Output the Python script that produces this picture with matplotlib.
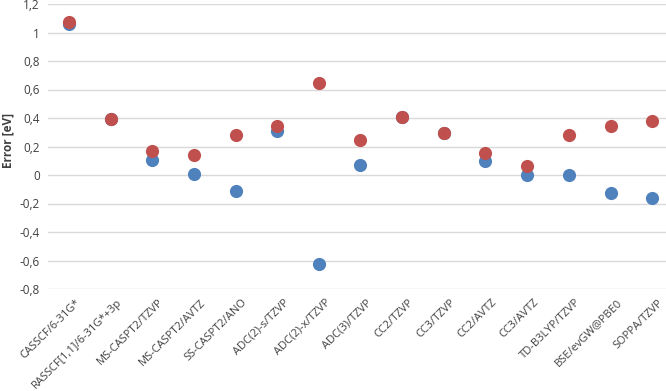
import matplotlib.pyplot as plt
from matplotlib.transforms import ScaledTranslation

methods = ['CASSCF/6-31G*', 'RASSCF[1,1]/6-31G*+3p', 'MS-CASPT2/TZVP', 'MS-CASPT2/AVTZ',
           'SS-CASPT2/ANO', 'ADC(2)-s/TZVP', 'ADC(2)-x/TZVP', 'ADC(3)/TZVP', 'CC2/TZVP',
           'CC3/TZVP', 'CC2/AVTZ', 'CC3/AVTZ', 'TD-B3LYP/TZVP', 'BSE/evGW@PBE0', 'SOPPA/TZVP']
blue_err = [1.06, 0.39, 0.104, 0.006, -0.114, 0.312, -0.628, 0.069, 0.408,
            0.296, 0.10, 0.001, 0.0, -0.128, -0.163]
red_err = [1.075, 0.39, 0.165, 0.142, 0.284, 0.345, 0.644, 0.249, 0.408,
           0.296, 0.153, 0.06, 0.284, 0.347, 0.38]
yticks = [-0.8, -0.6, -0.4, -0.2, 0, 0.2, 0.4, 0.6, 0.8, 1, 1.2]

plt.rcParams['font.family'] = ['Open Sans', 'DejaVu Sans']

fig = plt.figure(figsize=(6.66, 3.91), dpi=100)
ax = fig.add_axes([48 / 666, 102 / 391, 625 / 666, 285 / 391])

x = list(range(len(methods)))
ax.scatter(x, blue_err, s=90, color='#4F81BD', zorder=3, linewidths=0)
ax.scatter(x, red_err, s=90, color='#C0504D', zorder=4, linewidths=0)

ax.set_xlim(-0.5, len(methods) - 0.5)
ax.set_ylim(-0.8, 1.2)
ax.set_yticks(yticks)
ax.set_yticklabels([('%g' % v).replace('.', ',') for v in yticks], fontsize=8.5, color='#404040')
ax.set_xticks(x)
ax.set_xticklabels([])
# rotated category labels, nudged right/down like the original
lab_tr = ax.get_xaxis_transform() + ScaledTranslation(6 / 100, -8 / 100, fig.dpi_scale_trans)
for xi, name in zip(x, methods):
    ax.text(xi, 0, name, transform=lab_tr, rotation=45, ha='right', va='top',
            rotation_mode='anchor', fontsize=8, color='#404040')
ax.tick_params(length=0, pad=6)
ax.grid(axis='y', color='#D9D9D9', linewidth=1)
ax.set_axisbelow(True)
for s in ax.spines.values():
    s.set_visible(False)
ax.set_ylabel('Error [eV]', fontsize=8.5, fontweight='bold', color='#404040')
ax.yaxis.set_label_coords(-0.053, 0.52)

fig.savefig('out.png', dpi=100)
